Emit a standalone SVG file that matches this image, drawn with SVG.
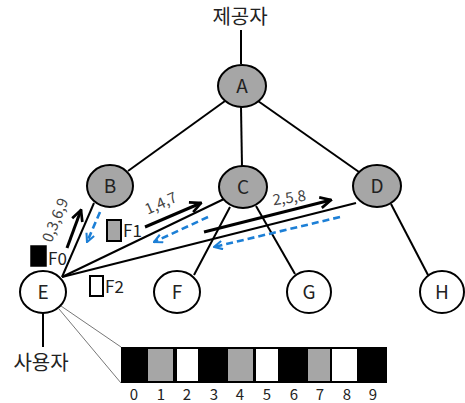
<svg xmlns="http://www.w3.org/2000/svg" width="465" height="403" viewBox="0 0 465 403">
<defs>
<style>
.n{stroke:#000;stroke-width:2}
.g{fill:#a6a6a6}
.w{fill:#fff}
.t{font-family:"Noto Sans CJK KR","Noto Sans",sans-serif;fill:#222;text-anchor:middle}
.nl{font-size:19px}
.e{stroke:#000;stroke-width:2;fill:none}
.ba{stroke:#000;stroke-width:3;fill:none;marker-end:url(#bh)}
.bl{stroke:#1c7fd6;stroke-width:2.6;fill:none;stroke-dasharray:7 4;marker-end:url(#blh)}
.lb{font-family:"Noto Sans CJK KR","Noto Sans",sans-serif;font-size:15px;fill:#444}
.fl{font-family:"Noto Sans CJK KR","Noto Sans",sans-serif;font-size:17px;fill:#222}
.ko{font-family:"Noto Sans CJK KR",sans-serif;font-size:20px;fill:#222;text-anchor:middle}
.num{font-family:"Noto Sans CJK KR","Noto Sans",sans-serif;font-size:15px;fill:#222;text-anchor:middle}
</style>
<marker id="bh" viewBox="0 0 10 10" refX="9" refY="5" markerWidth="4.5" markerHeight="4.5" orient="auto" markerUnits="strokeWidth">
<path d="M1,1 L9,5 L1,9" fill="none" stroke="#000" stroke-width="2"/>
</marker>
<marker id="blh" viewBox="0 0 10 10" refX="9" refY="5" markerWidth="4" markerHeight="4" orient="auto" markerUnits="strokeWidth">
<path d="M1,1 L9,5 L1,9" fill="none" stroke="#1c7fd6" stroke-width="2"/>
</marker>
</defs>
<g id="connectors">
<line class="e" x1="241" y1="30" x2="241" y2="64"/>
<line class="e" x1="225" y1="101" x2="128" y2="171"/>
<line class="e" x1="241" y1="107" x2="242" y2="167"/>
<line class="e" x1="258" y1="101" x2="359" y2="172"/>
<line class="e" x1="62" y1="277" x2="94" y2="203"/>
<line class="e" x1="62" y1="277" x2="224" y2="199"/>
<line class="e" x1="62" y1="277" x2="356" y2="203"/>
<line class="e" x1="230" y1="207" x2="194" y2="275"/>
<line class="e" x1="256" y1="206" x2="295" y2="274"/>
<line class="e" x1="391" y1="204" x2="428" y2="275"/>
<line class="e" x1="43" y1="313" x2="43" y2="347"/>
<line stroke="#777" stroke-width="1" x1="61" y1="306" x2="121" y2="347"/>
<line stroke="#777" stroke-width="1" x1="59" y1="309" x2="121" y2="383"/>
<line class="ba" x1="67" y1="248" x2="81" y2="210"/>
<line class="ba" x1="145" y1="227" x2="201" y2="203"/>
<line class="ba" x1="204" y1="232" x2="331" y2="200"/>
<line class="bl" x1="100" y1="212" x2="87" y2="242"/>
<line class="bl" x1="208" y1="217" x2="154" y2="242"/>
<line class="bl" x1="340" y1="217" x2="214" y2="247"/>
</g>
<text class="ko" x="240" y="24">제공자</text>
<text class="ko" x="41" y="370">사용자</text>
<text class="lb" transform="translate(60,222) rotate(-68)" text-anchor="middle">0,3,6,9</text>
<text class="lb" transform="translate(163,208) rotate(-24)" text-anchor="middle">1,4,7</text>
<text class="lb" transform="translate(290,203) rotate(-8)" text-anchor="middle">2,5,8</text>
<g id="A"><ellipse class="n g" cx="242" cy="86" rx="24" ry="21"/><text class="t nl" x="242" y="93">A</text></g>
<g id="B"><ellipse class="n g" cx="110" cy="186" rx="23" ry="21"/><text class="t nl" x="110" y="193">B</text></g>
<g id="C"><ellipse class="n g" cx="243" cy="187" rx="24" ry="21"/><text class="t nl" x="243" y="194">C</text></g>
<g id="D"><ellipse class="n g" cx="377" cy="186" rx="24" ry="21"/><text class="t nl" x="377" y="193">D</text></g>
<g id="E"><ellipse class="n w" cx="43" cy="292" rx="23" ry="21"/><text class="t nl" x="43" y="299">E</text></g>
<g id="F"><ellipse class="n w" cx="177" cy="292" rx="23" ry="21"/><text class="t nl" x="177" y="299">F</text></g>
<g id="G"><ellipse class="n w" cx="309" cy="292" rx="22" ry="21"/><text class="t nl" x="309" y="299">G</text></g>
<g id="H"><ellipse class="n w" cx="442" cy="292" rx="22" ry="21"/><text class="t nl" x="442" y="299">H</text></g>
<g id="F0"><rect x="31" y="246" width="15" height="20" fill="#000" stroke="#000" stroke-width="1.5"/><text class="fl" x="48" y="265">F0</text></g>
<g id="F1"><rect x="107" y="220" width="14" height="21" fill="#a6a6a6" stroke="#000" stroke-width="2"/><text class="fl" x="123" y="237">F1</text></g>
<g id="F2"><rect x="90" y="276" width="13" height="20" fill="#fff" stroke="#000" stroke-width="2"/><text class="fl" x="105" y="293">F2</text></g>
<g id="bar">
<rect x="121" y="347" width="266" height="36" fill="#000"/>
<rect x="148" y="349" width="25" height="32" fill="#a6a6a6"/>
<rect x="177" y="349" width="21" height="32" fill="#fff"/>
<rect x="228" y="349" width="25" height="32" fill="#a6a6a6"/>
<rect x="256" y="349" width="22" height="32" fill="#fff"/>
<rect x="308" y="349" width="22" height="32" fill="#a6a6a6"/>
<rect x="332" y="349" width="25" height="32" fill="#fff"/>
<text class="num" x="134" y="400">0</text>
<text class="num" x="161" y="400">1</text>
<text class="num" x="187" y="400">2</text>
<text class="num" x="214" y="400">3</text>
<text class="num" x="240" y="400">4</text>
<text class="num" x="267" y="400">5</text>
<text class="num" x="294" y="400">6</text>
<text class="num" x="320" y="400">7</text>
<text class="num" x="347" y="400">8</text>
<text class="num" x="373" y="400">9</text>
</g>
</svg>
